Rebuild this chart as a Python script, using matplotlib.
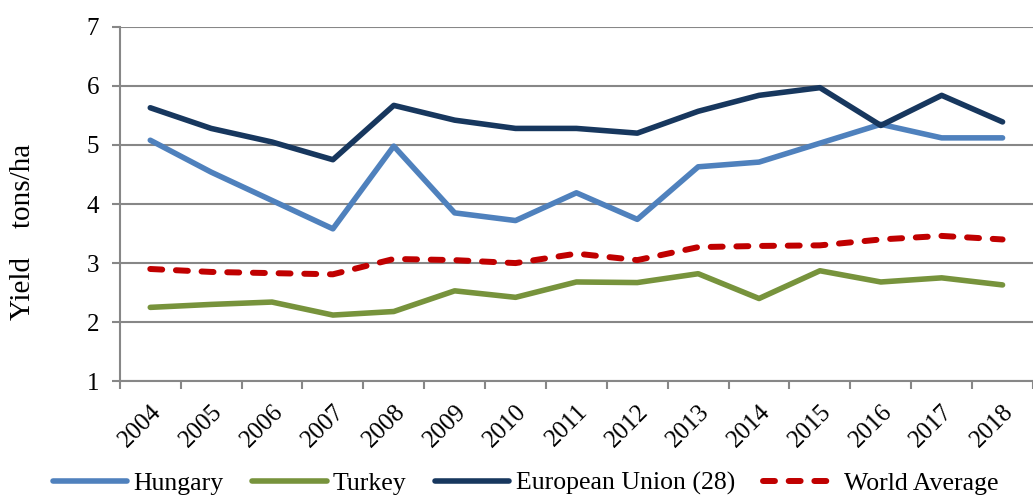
import matplotlib.pyplot as plt
import numpy as np

years = [str(y) for y in range(2004, 2019)]
hungary = [5.08, 4.54, 4.06, 3.58, 4.98, 3.85, 3.72, 4.19, 3.74, 4.63, 4.71, 5.03, 5.35, 5.12, 5.12]
turkey = [2.25, 2.30, 2.34, 2.12, 2.18, 2.53, 2.42, 2.68, 2.67, 2.82, 2.40, 2.87, 2.68, 2.75, 2.63]
eu28 = [5.63, 5.28, 5.05, 4.75, 5.67, 5.42, 5.28, 5.28, 5.20, 5.57, 5.84, 5.97, 5.33, 5.84, 5.39]
world = [2.90, 2.85, 2.83, 2.81, 3.07, 3.05, 3.00, 3.16, 3.05, 3.27, 3.29, 3.30, 3.40, 3.46, 3.40]

plt.rcParams['font.family'] = ['Liberation Serif', 'DejaVu Serif']

fig = plt.figure(figsize=(10.33, 4.97), dpi=100)
ax = fig.add_axes([0.116, 0.233, 0.884, 0.713])

x = np.arange(len(years))
lw = 4.0
ax.plot(x, hungary, color='#4F81BD', lw=lw, label='Hungary', solid_capstyle='round')
ax.plot(x, turkey, color='#77933C', lw=lw, label='Turkey', solid_capstyle='round')
ax.plot(x, eu28, color='#17375E', lw=lw, label='European Union (28)', solid_capstyle='round')
ax.plot(x, world, color='#C00000', lw=4.3, label='World Average', dashes=(2.0, 2.3), dash_capstyle='round')

ax.set_xlim(-0.5, len(years) - 0.5)
ax.set_ylim(1, 7)
ax.set_yticks(range(1, 8))
ax.yaxis.grid(True, color='#878787', lw=1.5)
ax.set_axisbelow(True)

ax.set_xticks(x)
ax.set_xticklabels(years, rotation=45, ha='right', rotation_mode='anchor', fontsize=18)
ax.set_xticks(np.arange(-0.5, len(years) + 0.5, 1), minor=True)
ax.tick_params(axis='x', which='major', length=0, pad=14)
ax.tick_params(axis='x', which='minor', length=6, width=1.5, color='#878787')
ax.tick_params(axis='y', length=6, width=1.5, color='#878787', labelsize=18, pad=9)

for s in ['top', 'right']:
    ax.spines[s].set_visible(False)
for s in ['left', 'bottom']:
    ax.spines[s].set_color('#878787')
    ax.spines[s].set_linewidth(1.5)

ax.set_ylabel('Yield    tons/ha', fontsize=21, va='center')
ax.yaxis.set_label_coords(-0.106, 0.42)

fig.legend(loc='center', bbox_to_anchor=(0.509, 0.027), ncol=4, frameon=False, fontsize=18.5,
           handlelength=2.9, handletextpad=0.25, columnspacing=1.1, borderpad=0)

fig.savefig('out.png', dpi=100)
